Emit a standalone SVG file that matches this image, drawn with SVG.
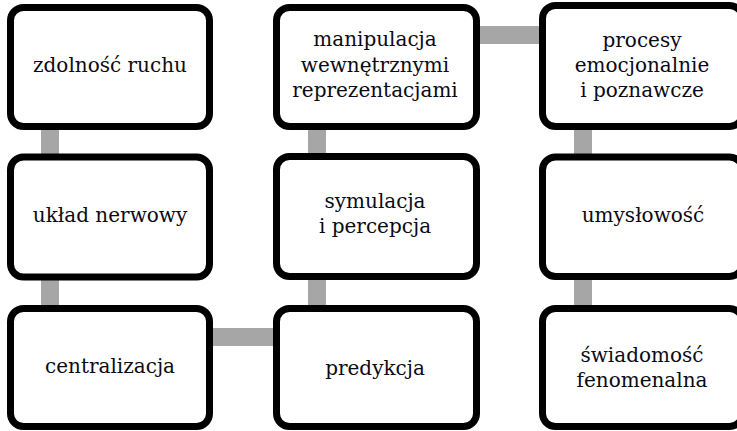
<svg xmlns="http://www.w3.org/2000/svg" width="737" height="431" viewBox="0 0 737 431">
<style>
.box{fill:#fff;stroke:#000;stroke-width:7}
.c{fill:#a6a6a6}
text{font-family:"DejaVu Serif","Liberation Serif",serif;font-size:20px;fill:#0a0a14;text-anchor:middle}
</style>
<rect width="737" height="431" fill="#fff"/>
<g id="connectors">
<rect class="c" x="41" y="126" width="18" height="32"/>
<rect class="c" x="41" y="276" width="18" height="33"/>
<rect class="c" x="209" y="328" width="68" height="18"/>
<rect class="c" x="308" y="275" width="18" height="34"/>
<rect class="c" x="308" y="126" width="18" height="31"/>
<rect class="c" x="476" y="26" width="67" height="18"/>
<rect class="c" x="574" y="126" width="18" height="31"/>
<rect class="c" x="574" y="275" width="18" height="34"/>
</g>
<g id="n1"><rect class="box" x="10.5" y="7.5" width="199" height="119" rx="13"/><text x="110" y="72">zdolność ruchu</text></g>
<g id="n2"><rect class="box" x="10.5" y="157" width="199" height="120" rx="13"/><text x="110" y="222">układ nerwowy</text></g>
<g id="n3"><rect class="box" x="10.5" y="308.5" width="199" height="118" rx="13"/><text x="110" y="373">centralizacja</text></g>
<g id="n4"><rect class="box" x="276.5" y="308.5" width="200" height="118" rx="13"/><text x="375" y="375">predykcja</text></g>
<g id="n5"><rect class="box" x="276.5" y="156.5" width="200" height="120" rx="13"/><text x="375" y="208">symulacja</text><text x="375" y="233">i percepcja</text></g>
<g id="n6"><rect class="box" x="276.5" y="7.5" width="200" height="119" rx="13"/><text x="375" y="46">manipulacja</text><text x="375" y="72">wewnętrznymi</text><text x="375" y="97">reprezentacjami</text></g>
<g id="n7"><rect class="box" x="542.5" y="5.5" width="200" height="121" rx="13"/><text x="642" y="47">procesy</text><text x="642" y="72">emocjonalnie</text><text x="642" y="97">i poznawcze</text></g>
<g id="n8"><rect class="box" x="542.5" y="157" width="200" height="119.5" rx="13"/><text x="643" y="222">umysłowość</text></g>
<g id="n9"><rect class="box" x="542.5" y="308.5" width="200" height="118" rx="13"/><text x="642" y="362">świadomość</text><text x="642" y="387">fenomenalna</text></g>
</svg>
